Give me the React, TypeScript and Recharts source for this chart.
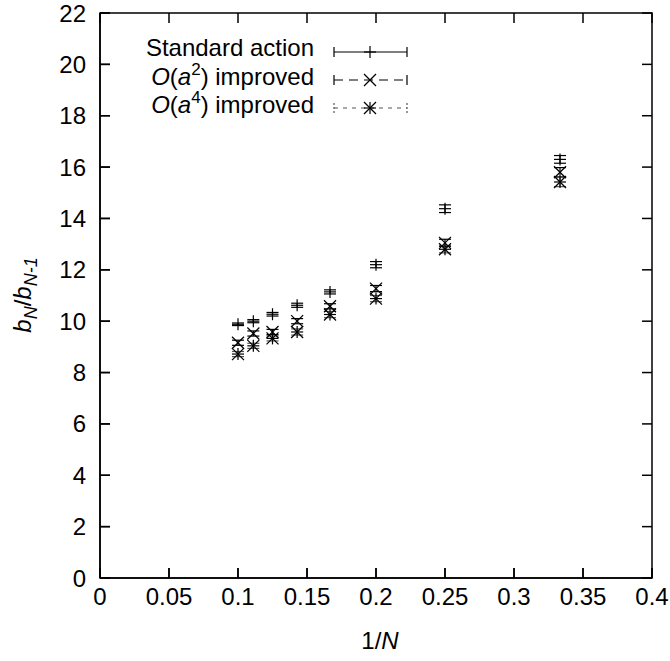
import React from 'react';
import { ScatterChart, Scatter, XAxis, YAxis, ErrorBar } from 'recharts';

// 1/N on the x axis
const latticeN = [10, 9, 8, 7, 6, 5, 4, 3];
const standardAction = [9.88, 10.0, 10.27, 10.62, 11.14, 12.2, 14.38, 16.3];
const standardErr = [0.05, 0.06, 0.07, 0.08, 0.08, 0.12, 0.15, 0.15];
const improvedA2 = [9.16, 9.52, 9.58, 10.0, 10.58, 11.27, 13.05, 15.8];
const improvedA2Err = [0.1, 0.1, 0.1, 0.1, 0.1, 0.12, 0.14, 0.18];
const improvedA4 = [8.72, 9.04, 9.33, 9.58, 10.26, 10.88, 12.8, 15.42];
const improvedA4Err = [0.1, 0.1, 0.1, 0.12, 0.12, 0.12, 0.14, 0.18];
const xTicks = [0, 0.05, 0.1, 0.15, 0.2, 0.25, 0.3, 0.35, 0.4];
const yTicks = [0, 2, 4, 6, 8, 10, 12, 14, 16, 18, 20, 22];

const FONT = '"Liberation Sans", Arial, Helvetica, sans-serif';
const FS = 24;
const TICK = 10;

// plot box (follows from the chart margins / axis sizes below)
const W = 670, H = 661;
const PL = 100, PR = W - 18, PT = 13, PB = H - 83;
const X_MAX = 0.4, Y_MAX = 22;

const toRows = (vals: number[], errs: number[]) =>
  latticeN.map((n, i) => ({ x: 1 / n, y: vals[i], err: errs[i] }));

const standardRows = toRows(standardAction, standardErr);
const a2Rows = toRows(improvedA2, improvedA2Err);
const a4Rows = toRows(improvedA4, improvedA4Err);

const R = 6;
const Plus = ({ cx, cy }: any) => (
  <g stroke="#000" strokeWidth={1.2}>
    <line x1={cx - R} y1={cy} x2={cx + R} y2={cy} />
    <line x1={cx} y1={cy - R} x2={cx} y2={cy + R} />
  </g>
);
const Cross = ({ cx, cy }: any) => (
  <g stroke="#000" strokeWidth={1.2}>
    <line x1={cx - R} y1={cy - R} x2={cx + R} y2={cy + R} />
    <line x1={cx - R} y1={cy + R} x2={cx + R} y2={cy - R} />
  </g>
);
const Star = ({ cx, cy }: any) => (
  <g>
    <Plus cx={cx} cy={cy} />
    <Cross cx={cx} cy={cy} />
  </g>
);

const legendRows = [
  { key: 'std', dash: undefined, color: '#000', Marker: Plus },
  { key: 'a2', dash: '9 6', color: '#000', Marker: Cross },
  { key: 'a4', dash: '4 5', color: '#555', Marker: Star },
];

const LegendLabel = ({ idx, y }: { idx: number; y: number }) => {
  if (idx === 0) {
    return (
      <text x={314} y={y} textAnchor="end" fontSize={FS} fontFamily={FONT}>Standard action</text>
    );
  }
  const pow = idx === 1 ? '2' : '4';
  return (
    <text x={314} y={y} textAnchor="end" fontSize={FS} fontFamily={FONT}>
      <tspan fontStyle="italic">O</tspan>
      <tspan>(</tspan>
      <tspan fontStyle="italic">a</tspan>
      <tspan fontSize={17} dy={-10}>{pow}</tspan>
      <tspan dy={10}>) improved</tspan>
    </text>
  );
};

// gnuplot-style frame: full border with inward ticks on all four sides
const Frame = () => {
  const sx = (v: number) => PL + (v / X_MAX) * (PR - PL);
  const sy = (v: number) => PB - (v / Y_MAX) * (PB - PT);
  return (
    <g stroke="#000" strokeWidth={1.5}>
      <rect x={PL} y={PT} width={PR - PL} height={PB - PT} fill="none" />
      {xTicks.map((t) => (
        <g key={'x' + t}>
          <line x1={sx(t)} y1={PB} x2={sx(t)} y2={PB - TICK} />
          <line x1={sx(t)} y1={PT} x2={sx(t)} y2={PT + TICK} />
        </g>
      ))}
      {yTicks.map((t) => (
        <g key={'y' + t}>
          <line x1={PL} y1={sy(t)} x2={PL + TICK} y2={sy(t)} />
          <line x1={PR} y1={sy(t)} x2={PR - TICK} y2={sy(t)} />
        </g>
      ))}
    </g>
  );
};

const Overlay = () => (
  <svg width={W} height={H} style={{ position: 'absolute', left: 0, top: 0, pointerEvents: 'none' }}>
    <Frame />
    {legendRows.map((r, i) => {
      const ly = 52 + i * 28;
      return (
        <g key={r.key}>
          <LegendLabel idx={i} y={ly + 4 + (i > 0 ? 1 : 0)} />
          <line x1={334} y1={ly} x2={407} y2={ly} stroke={r.color} strokeWidth={1.2} strokeDasharray={r.dash} />
          <line x1={334} y1={ly - 5} x2={334} y2={ly + 5} stroke={r.color} strokeWidth={1.2} strokeDasharray={i === 2 ? '2 2' : undefined} />
          <line x1={407} y1={ly - 5} x2={407} y2={ly + 5} stroke={r.color} strokeWidth={1.2} strokeDasharray={i === 2 ? '2 2' : undefined} />
          <r.Marker cx={370} cy={ly} />
        </g>
      );
    })}
    <text x={380} y={649} textAnchor="middle" fontSize={FS} fontFamily={FONT}>
      1/<tspan fontStyle="italic">N</tspan>
    </text>
    <text transform="translate(31,295) rotate(-90)" textAnchor="middle" fontSize={FS} fontFamily={FONT} fontStyle="italic">
      <tspan>b</tspan>
      <tspan fontSize={18} dy={6}>N</tspan>
      <tspan dy={-6} fontStyle="normal">/</tspan>
      <tspan>b</tspan>
      <tspan fontSize={18} dy={6}>N-1</tspan>
    </text>
  </svg>
);

const tickStyle = { fontSize: FS, fill: '#000', fontFamily: FONT };

export default function App() {
  return (
    <div style={{ position: 'absolute', left: 0, top: 0, width: W, height: H, background: '#fff' }}>
      <ScatterChart width={W} height={H} margin={{ top: PT, right: W - PR, left: 0, bottom: 0 }}>
        <XAxis xAxisId="b" dataKey="x" type="number" domain={[0, X_MAX]} ticks={xTicks}
          height={H - PB} tickSize={-TICK} tickMargin={20} interval={0}
          axisLine={{ stroke: '#000', strokeWidth: 1.5 }}
          tickLine={{ stroke: '#000', strokeWidth: 1.5 }} tick={tickStyle} />
        <YAxis yAxisId="l" dataKey="y" type="number" domain={[0, Y_MAX]} ticks={yTicks}
          width={PL} tickSize={-TICK} tickMargin={24} interval={0}
          axisLine={{ stroke: '#000', strokeWidth: 1.5 }}
          tickLine={{ stroke: '#000', strokeWidth: 1.5 }} tick={tickStyle} />
        <Scatter name="Standard action" data={standardRows} xAxisId="b" yAxisId="l" dataKey="y"
          shape={<Plus />} isAnimationActive={false}>
          <ErrorBar dataKey="err" direction="y" width={6} stroke="#000" strokeWidth={1.2} />
        </Scatter>
        <Scatter name="O(a2) improved" data={a2Rows} xAxisId="b" yAxisId="l" dataKey="y"
          shape={<Cross />} isAnimationActive={false}>
          <ErrorBar dataKey="err" direction="y" width={6} stroke="#000" strokeWidth={1.2} />
        </Scatter>
        <Scatter name="O(a4) improved" data={a4Rows} xAxisId="b" yAxisId="l" dataKey="y"
          shape={<Star />} isAnimationActive={false}>
          <ErrorBar dataKey="err" direction="y" width={6} stroke="#555" strokeWidth={1.2} />
        </Scatter>
      </ScatterChart>
      <Overlay />
    </div>
  );
}
